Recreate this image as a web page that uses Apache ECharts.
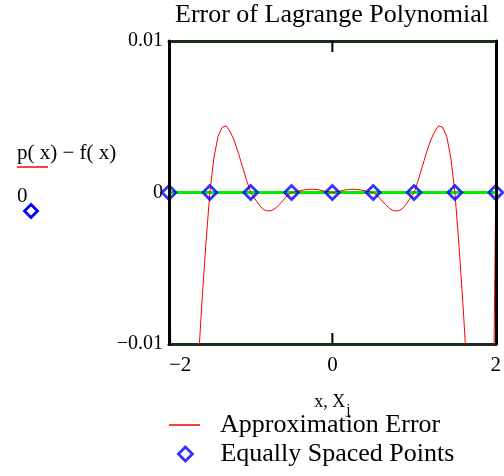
<!DOCTYPE html>
<html lang="en">
<head>
    <meta charset="UTF-8">
    <title>Error of Lagrange Polynomial</title>
    <script type="text/javascript" src="https://cdn.jsdelivr.net/npm/echarts@6/dist/echarts.min.js"></script>
    <style>
        html, body { margin: 0; padding: 0; background: #fff; }
    </style>
</head>
<body>
    <div id="charts" style="width:504px;height:476px;"></div>
</body>
<script type="text/javascript">
    // values
    var xVals = [-2, -1.975, -1.95, -1.9, -1.85, -1.8, -1.75, -1.7, -1.65, -1.6, -1.55,
        -1.5, -1.45, -1.4, -1.35, -1.3, -1.25, -1.2, -1.15, -1.1, -1.05,
        -1, -0.95, -0.9, -0.85, -0.8, -0.75, -0.7, -0.65, -0.6, -0.55,
        -0.5, -0.45, -0.4, -0.35, -0.3, -0.25, -0.2, -0.15, -0.1, -0.05,
        0, 0.05, 0.1, 0.15, 0.2, 0.25, 0.3, 0.35, 0.4, 0.45,
        0.5, 0.55, 0.6, 0.65, 0.7, 0.75, 0.8, 0.85, 0.9, 0.95,
        1, 1.05, 1.1, 1.15, 1.2, 1.25, 1.3, 1.35, 1.4, 1.45,
        1.5, 1.55, 1.6, 1.65, 1.7, 1.75, 1.8, 1.85, 1.9, 1.95, 1.975, 2];
    var errVals = [0, -0.012, -0.022, -0.031, -0.032, -0.029, -0.024, -0.018, -0.012, -0.0075, -0.0035,
        0, 0.0023, 0.0037, 0.0043, 0.0044, 0.0040, 0.0034, 0.0026, 0.0017, 0.0008,
        0, -0.0004, -0.0008, -0.0011, -0.00122, -0.0012, -0.00105, -0.0008, -0.0005, -0.0002,
        0, 0.00005, 0.00011, 0.00017, 0.0002, 0.00022, 0.0002, 0.00016, 0.0001, 0.00005,
        0, 0.00005, 0.0001, 0.00016, 0.0002, 0.00022, 0.0002, 0.00017, 0.00011, 0.00005,
        0, -0.0002, -0.0005, -0.0008, -0.00105, -0.0012, -0.00122, -0.0011, -0.0008, -0.0004,
        0, 0.0008, 0.0017, 0.0026, 0.0034, 0.0040, 0.0044, 0.0043, 0.0037, 0.0023,
        0, -0.0035, -0.0075, -0.012, -0.018, -0.024, -0.029, -0.032, -0.031, -0.022, -0.012, 0];
    var nodeX = [-2, -1.5, -1, -0.5, 0, 0.5, 1, 1.5, 2];
    var nodeY = [0, 0, 0, 0, 0, 0, 0, 0, 0];
    var zeroX = [-2, 2];
    var zeroY = [0, 0];
    var xTicks = [-2, 0, 2];
    var yTicks = [-0.01, 0, 0.01];

    var serif = 'Liberation Serif';
    var frame = '#1a2e1a';

    function pairs(xs, ys) {
        return xs.map(function (x, i) { return [x, ys[i]]; });
    }
    function minusFmt(v) {
        return v < 0 ? '\u2212' + String(Math.abs(v)) : String(v);
    }

    var myChart = echarts.init(document.getElementById('charts'));

    var option = {
        animation: false,
        backgroundColor: '#fff',
        title: {
            text: 'Error of Lagrange Polynomial',
            left: 175,
            top: 2,
            padding: 0,
            textStyle: { fontFamily: serif, fontSize: 26, fontWeight: 'normal', color: '#000' }
        },
        grid: { left: 169, right: 5, top: 41, bottom: 132 },
        legend: [{
            data: [{ name: 'Approximation Error', icon: 'rect' }],
            left: 169, top: 412, padding: 0,
            itemWidth: 31, itemHeight: 1.5,
            itemStyle: { color: '#ff0000' },
            formatter: function (n) { return '{t|' + n + '}'; },
            textStyle: {
                rich: { t: { fontFamily: serif, fontSize: 26, color: '#000', lineHeight: 28, padding: [0, 0, 0, 15] } }
            }
        }, {
            data: [{ name: 'Equally Spaced Points', icon: 'diamond' }],
            left: 177, top: 441, padding: 0,
            itemWidth: 14, itemHeight: 14,
            itemStyle: { color: 'transparent', borderColor: '#0000ff', borderWidth: 2.8 },
            formatter: function (n) { return '{t|' + n + '}'; },
            textStyle: {
                rich: { t: { fontFamily: serif, fontSize: 26, color: '#000', lineHeight: 28, padding: [0, 0, 0, 23] } }
            }
        }],
        xAxis: [{
            type: 'value', min: xTicks[0], max: xTicks[2], interval: 2,
            position: 'bottom',
            axisLine: { onZero: false, lineStyle: { color: frame, width: 3 } },
            axisTick: { show: false },
            splitLine: { show: false },
            axisLabel: {
                formatter: minusFmt, margin: 11, alignMinLabel: 'left',
                fontFamily: serif, fontSize: 21, color: '#000'
            },
            name: '{a|x, X}{b|j}',
            nameLocation: 'middle',
            nameGap: 43,
            nameTextStyle: {
                rich: {
                    a: { fontFamily: serif, fontSize: 18, color: '#000' },
                    b: { fontFamily: serif, fontSize: 15, color: '#000', padding: [16, 0, 0, 1] }
                }
            }
        }, {
            type: 'value', min: xTicks[0], max: xTicks[2], interval: 2,
            position: 'top',
            axisLine: { onZero: false, lineStyle: { color: frame, width: 3 } },
            axisTick: { show: false },
            splitLine: { show: false },
            axisLabel: { show: false }
        }],
        yAxis: [{
            type: 'value', min: yTicks[0], max: yTicks[2], interval: 0.01,
            position: 'left', z: 5,
            axisLine: { onZero: false, lineStyle: { color: '#000', width: 3 } },
            axisTick: { show: false },
            splitLine: { show: false },
            axisLabel: {
                formatter: minusFmt, margin: 6,
                fontFamily: serif, fontSize: 20, color: '#000'
            }
        }, {
            type: 'value', min: yTicks[0], max: yTicks[2], interval: 0.01,
            position: 'right', z: 5,
            axisLine: { onZero: false, lineStyle: { color: '#000', width: 3 } },
            axisTick: { show: false },
            splitLine: { show: false },
            axisLabel: { show: false }
        }],
        series: [{
            name: 'Approximation Error',
            type: 'line',
            data: pairs(xVals, errVals),
            showSymbol: false,
            clip: true,
            lineStyle: { color: '#ff0000', width: 1 },
            itemStyle: { color: '#ff0000' },
            z: 3
        }, {
            name: 'zero',
            type: 'line',
            data: pairs(zeroX, zeroY),
            showSymbol: false,
            lineStyle: { color: '#00ee00', width: 3 },
            z: 2
        }, {
            name: 'Equally Spaced Points',
            type: 'scatter',
            data: pairs(nodeX, nodeY),
            symbol: 'diamond',
            symbolSize: 14,
            clip: false,
            itemStyle: { color: 'transparent', borderColor: '#0000ff', borderWidth: 2.8 },
            z: 4
        }],
        graphic: [{
            type: 'text', left: 17, top: 143,
            style: { text: 'p( x) \u2212 f( x)', fontFamily: serif, fontSize: 21, fill: '#000' }
        }, {
            type: 'line',
            shape: { x1: 17, y1: 167, x2: 48, y2: 167 },
            style: { stroke: '#ff0000', lineWidth: 1.5 }
        }, {
            type: 'text', left: 17, top: 186,
            style: { text: '0', fontFamily: serif, fontSize: 21, fill: '#000' }
        }, {
            type: 'polygon',
            shape: { points: [[31, 204.5], [37.5, 211], [31, 217.5], [24.5, 211]] },
            style: { fill: 'none', stroke: '#0000ff', lineWidth: 2.8 }
        }]
    };

    myChart.setOption(option);

    // inside ticks at the middle x tick, placed through the axis scales
    var tickLen = 11;
    var ticks = [];
    xTicks.slice(1, 2).forEach(function (v) {
        var px = myChart.convertToPixel({ xAxisIndex: 0 }, v);
        var yTop = myChart.convertToPixel({ yAxisIndex: 0 }, yTicks[2]);
        var yBot = myChart.convertToPixel({ yAxisIndex: 0 }, yTicks[0]);
        ticks.push({
            type: 'line', z: 10,
            shape: { x1: px, y1: yTop, x2: px, y2: yTop + tickLen },
            style: { stroke: '#000', lineWidth: 2 }
        });
        ticks.push({
            type: 'line', z: 10,
            shape: { x1: px, y1: yBot, x2: px, y2: yBot - tickLen },
            style: { stroke: '#000', lineWidth: 2 }
        });
    });
    myChart.setOption({ graphic: option.graphic.concat(ticks) });
</script>
</html>
